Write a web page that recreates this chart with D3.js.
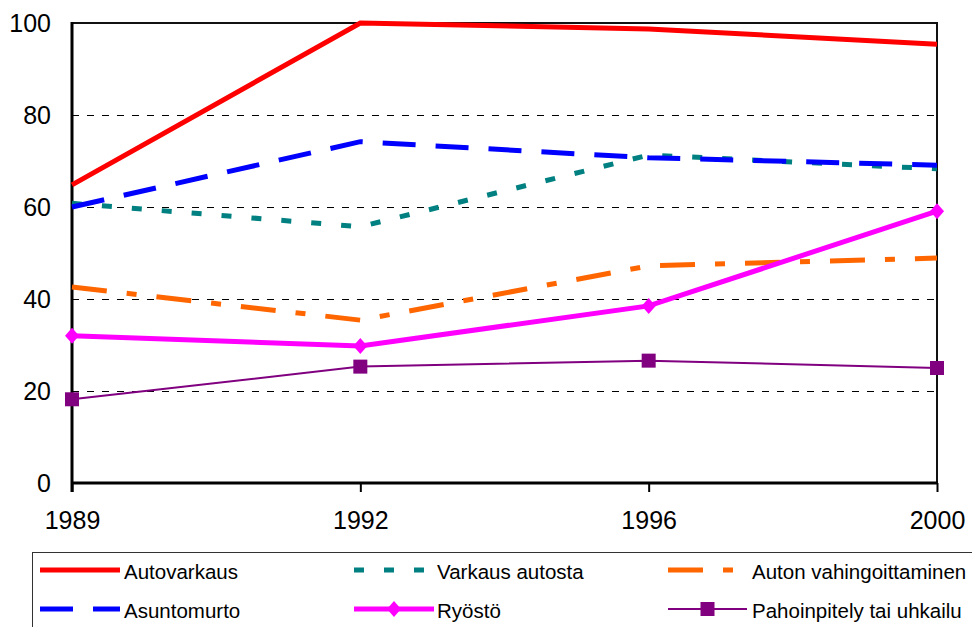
<!DOCTYPE html>
<meta charset="utf-8">
<head>
    <script src="https://d3js.org/d3.v7.min.js"></script>
    <style>
        body { margin: 0; background: #fff; }
        text { font-family: "Liberation Sans", Arial, sans-serif; fill: #000; }
    </style>
</head>
<body>
<div id="chartContainer"></div>
</body>
<script type="text/javascript">

    var years = ["1989", "1992", "1996", "2000"];
    var yTicks = [0, 20, 40, 60, 80, 100];

    var autovarkaus = [64.8, 100, 98.7, 95.4];
    var varkausAutosta = [60.8, 55.7, 71.3, 68.3];
    var autonVahingoittaminen = [42.6, 35.4, 47.2, 48.9];
    var asuntomurto = [60.0, 74.2, 70.7, 69.1];
    var ryosto = [32.0, 29.8, 38.5, 59.1];
    var pahoinpitely = [18.2, 25.3, 26.6, 25.0];

    // series in legend order (row by row)
    var series = [
        {name: "Autovarkaus", values: autovarkaus, color: "#FF0000", width: 5, dash: null, marker: null},
        {name: "Varkaus autosta", values: varkausAutosta, color: "#008080", width: 5, dash: "10,20", marker: null},
        {name: "Auton vahingoittaminen", values: autonVahingoittaminen, color: "#FF6600", width: 5, dash: "35,20,10,20", marker: null},
        {name: "Asuntomurto", values: asuntomurto, color: "#0000FF", width: 5, dash: "33,20", marker: null},
        {name: "Ryöstö", values: ryosto, color: "#FF00FF", width: 5, dash: null, marker: "diamond"},
        {name: "Pahoinpitely tai uhkailu", values: pahoinpitely, color: "#800080", width: 2, dash: null, marker: "square"}
    ];

    var W = 972, H = 627;
    var plotLeft = 72, plotRight = 937, plotTop = 23, plotBottom = 483;

    var svg = d3.select("#chartContainer").append("svg")
        .attr("width", W).attr("height", H);

    var x = d3.scalePoint().domain(years).range([plotLeft, plotRight]);
    var y = d3.scaleLinear().domain([0, 100]).range([plotBottom, plotTop]);

    // dashed gridlines
    svg.append("g").selectAll("line")
        .data(yTicks.filter(function (d) { return d > 0 && d < 100; }))
        .join("line")
        .attr("x1", plotLeft).attr("x2", plotRight)
        .attr("y1", function (d) { return Math.round(y(d)) + 0.5; })
        .attr("y2", function (d) { return Math.round(y(d)) + 0.5; })
        .attr("stroke", "#000").attr("stroke-width", 1)
        .attr("stroke-dasharray", "7,8");

    // frame top/right
    svg.append("path")
        .attr("d", "M" + plotLeft + "," + plotTop + "H" + plotRight + "V" + plotBottom)
        .attr("fill", "none").attr("stroke", "#111").attr("stroke-width", 2);

    // y axis
    var yAxis = d3.axisLeft(y).tickValues(yTicks).tickSize(0).tickPadding(21);
    var gy = svg.append("g").attr("transform", "translate(" + plotLeft + ",0)").call(yAxis);
    gy.select(".domain").remove();
    gy.selectAll("text").style("font-size", "25px").attr("dy", "0.35em");

    // x axis
    var xAxis = d3.axisBottom(x).tickSize(9).tickPadding(19);
    var gx = svg.append("g").attr("transform", "translate(0," + plotBottom + ")").call(xAxis);
    gx.select(".domain").remove();
    gx.selectAll(".tick line").attr("stroke", "#000").attr("stroke-width", 2);
    gx.selectAll("text").style("font-size", "25px").attr("dy", "0.71em");

    svg.append("line")
        .attr("x1", plotLeft).attr("x2", plotLeft).attr("y1", plotTop - 1).attr("y2", plotBottom + 9)
        .attr("stroke", "#000").attr("stroke-width", 3);
    svg.append("line")
        .attr("x1", plotLeft).attr("x2", plotRight + 1).attr("y1", plotBottom).attr("y2", plotBottom)
        .attr("stroke", "#000").attr("stroke-width", 3);

    var line = d3.line()
        .x(function (d, i) { return x(years[i]); })
        .y(function (d) { return y(d); });

    function drawMarker(g, type, cx, cy, color) {
        if (type === "diamond") {
            g.append("path")
                .attr("d", "M" + cx + "," + (cy - 8) + "L" + (cx + 7) + "," + cy + "L" + cx + "," + (cy + 8) + "L" + (cx - 7) + "," + cy + "Z")
                .attr("fill", color);
        } else if (type === "square") {
            g.append("rect")
                .attr("x", cx - 7).attr("y", cy - 7).attr("width", 14).attr("height", 14)
                .attr("fill", color);
        }
    }

    var plot = svg.append("g");
    series.forEach(function (s) {
        plot.append("path")
            .datum(s.values)
            .attr("d", line)
            .attr("fill", "none")
            .attr("stroke", s.color)
            .attr("stroke-width", s.width)
            .attr("stroke-dasharray", s.dash);
        if (s.marker) {
            s.values.forEach(function (v, i) {
                drawMarker(plot, s.marker, x(years[i]), y(v), s.color);
            });
        }
    });

    // legend
    var legend = svg.append("g");
    legend.append("rect")
        .attr("x", 32.5).attr("y", 552.5).attr("width", 960).attr("height", 100)
        .attr("fill", "#fff").attr("stroke", "#333").attr("stroke-width", 1);

    var colX = [[40, 120, 124], [354, 434, 437], [668, 747, 752]];
    var rowY = [570, 609];

    series.forEach(function (s, i) {
        var c = colX[i % 3], r = rowY[Math.floor(i / 3)];
        legend.append("line")
            .attr("x1", c[0]).attr("x2", c[1]).attr("y1", r).attr("y2", r)
            .attr("stroke", s.color)
            .attr("stroke-width", s.width)
            .attr("stroke-dasharray", s.dash);
        if (s.marker) drawMarker(legend, s.marker, (c[0] + c[1]) / 2, r, s.color);
        legend.append("text")
            .attr("x", c[2]).attr("y", r + 9)
            .style("font-size", "20.5px")
            .text(s.name);
    });

</script>
</html>
